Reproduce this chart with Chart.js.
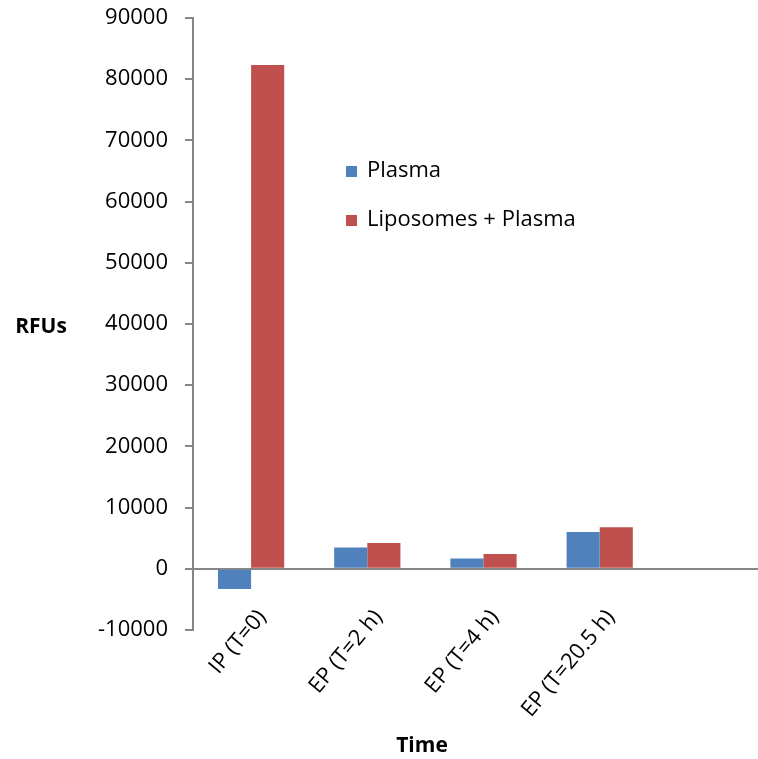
<!DOCTYPE html>
<html lang="en">
<head>
  <meta charset="UTF-8">
  <title>RFUs over time</title>
  <script src="https://cdn.jsdelivr.net/npm/chart.js"></script>
  <style>
    html, body { margin: 0; padding: 0; background: #fff; overflow: hidden; }
    #wrap { width: 758px; height: 759px; overflow: hidden; }
  </style>
</head>
<body>
<div id="wrap">
  <canvas id="rfuChart" width="780" height="759"></canvas>
</div>

<script>
  // sampling times (the sheet had a fifth, empty row)
  const timePoints = ['IP (T=0)', 'EP (T=2 h)', 'EP (T=4 h)', 'EP (T=20.5 h)', ''];
  // fluorescence readings
  const plasma = [-3300, 3500, 1700, 6000, null];
  const liposomesPlasma = [82300, 4200, 2400, 6800, null];
  // y axis range
  const yMin = -10000;
  const yMax = 90000;
  const yStep = 10000;

  const axisGrey = '#868686';
  const fontFamily = '"Open Sans", Lato, sans-serif';
  Chart.defaults.font.family = fontFamily;
  Chart.defaults.font.size = 22;
  Chart.defaults.color = '#000';

  // legend drawn inside the plot, stacked
  const boxLegend = {
    id: 'boxLegend',
    afterDraw(chart) {
      const ctx = chart.ctx;
      ctx.save();
      ctx.font = '22px ' + fontFamily;
      ctx.textBaseline = 'alphabetic';
      chart.data.datasets.forEach((ds, i) => {
        const base = 177 + i * 49;
        ctx.fillStyle = ds.backgroundColor;
        ctx.fillRect(346, base - 11, 11, 11);
        ctx.fillStyle = '#000';
        ctx.fillText(ds.label, 367, base);
      });
      ctx.restore();
    }
  };

  // axis titles, both horizontal
  const axisTitles = {
    id: 'axisTitles',
    afterDraw(chart) {
      const ctx = chart.ctx;
      ctx.save();
      ctx.font = 'bold 21px ' + fontFamily;
      ctx.fillStyle = '#000';
      ctx.textAlign = 'center';
      ctx.textBaseline = 'middle';
      ctx.fillText('RFUs', 41, 327);
      ctx.fillText('Time', 422, 746);
      ctx.restore();
    }
  };

  const ctx = document.getElementById('rfuChart').getContext('2d');
  const rfuChart = new Chart(ctx, {
    type: 'bar',
    data: {
      labels: timePoints,
      datasets: [{
        label: 'Plasma',
        data: plasma,
        backgroundColor: '#4F81BD'
      }, {
        label: 'Liposomes + Plasma',
        data: liposomesPlasma,
        backgroundColor: '#C0504D'
      }]
    },
    options: {
      responsive: false,
      animation: false,
      layout: { padding: { top: 18, bottom: 129, right: 6, left: 0 } },
      plugins: {
        legend: { display: false },
        tooltip: { enabled: false }
      },
      datasets: {
        bar: { categoryPercentage: 0.57, barPercentage: 1.0 }
      },
      scales: {
        x: {
          position: { y: 0 },
          grid: { display: true, drawOnChartArea: false, drawTicks: false },
          border: { display: true, color: axisGrey, width: 2 },
          ticks: { minRotation: 50, maxRotation: 50, padding: 36, labelOffset: 11, autoSkip: false }
        },
        y: {
          min: yMin,
          max: yMax,
          afterFit(scale) {
            scale.width = 193;
            scale.paddingTop = 0;
            scale.paddingBottom = 0;
          },
          grid: { drawOnChartArea: false, drawTicks: true, tickLength: 8, color: axisGrey, tickColor: axisGrey, lineWidth: 2 },
          border: { display: true, color: axisGrey, width: 2 },
          ticks: { stepSize: yStep, padding: 17, callback: v => String(v) }
        }
      }
    },
    plugins: [boxLegend, axisTitles]
  });
</script>
</body>
</html>
